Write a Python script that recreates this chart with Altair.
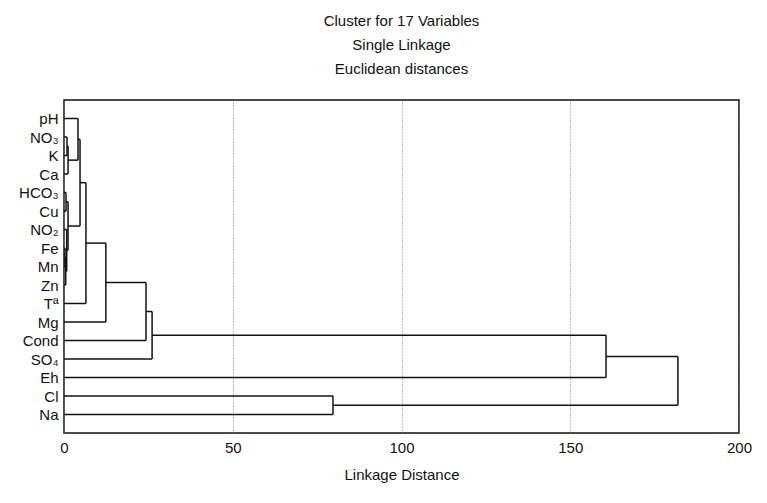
import altair as alt
import pandas as pd

# Leaves in dendrogram order (top to bottom)
leaves = ["pH", "NO₃", "K", "Ca", "HCO₃", "Cu", "NO₂", "Fe", "Mn", "Zn",
          "Tª", "Mg", "Cond", "SO₄", "Eh", "Cl", "Na"]

# Merges: children are leaf names or "m<k>" (earlier merge), with linkage distance
merge_left = ["NO₃", "m0", "pH", "HCO₃", "Fe", "m4", "NO₂", "m3", "m2", "m8",
              "m9", "m10", "m11", "m12", "Cl", "m13"]
merge_right = ["K", "Ca", "m1", "Cu", "Mn", "Zn", "m5", "m6", "m7", "Tª",
               "Mg", "Cond", "SO₄", "Eh", "Na", "m14"]
merge_height = [0.9, 1.2, 4.15, 0.6, 0.3, 0.5, 0.8, 1.2, 4.75, 6.5,
                12.4, 24.3, 26.1, 160.6, 79.7, 181.9]

x_ticks = [0, 50, 100, 150, 200]

# Build dendrogram segments from the merge table
pos = {name: (float(i), 0.0) for i, name in enumerate(leaves)}
segs = []
for k, (a, b, h) in enumerate(zip(merge_left, merge_right, merge_height)):
    ya, ha = pos[a]
    yb, hb = pos[b]
    segs.append({"x": ha, "x2": h, "y": ya, "y2": ya})
    segs.append({"x": hb, "x2": h, "y": yb, "y2": yb})
    segs.append({"x": h, "x2": h, "y": ya, "y2": yb})
    pos[f"m{k}"] = ((ya + yb) / 2.0, h)
df = pd.DataFrame(segs)

label_expr = "[" + ",".join(f"'{n}'" for n in leaves) + "][datum.value]"

FONT = "Liberation Sans"

chart = alt.Chart(df).mark_rule(color="#111111", strokeWidth=1.5).encode(
    x=alt.X("x:Q",
            scale=alt.Scale(domain=[0, 200], nice=False, zero=False),
            axis=alt.Axis(values=x_ticks, title="Linkage Distance", grid=True,
                          gridDash=[1, 2], gridColor="#777777", gridWidth=1,
                          ticks=False, domain=False, labelPadding=7,
                          titlePadding=12, labelFontSize=15, titleFontSize=15,
                          labelFont=FONT, titleFont=FONT, titleFontWeight="normal",
                          labelColor="#111111", titleColor="#111111",
                          labelFlush=False)),
    x2="x2:Q",
    y=alt.Y("y:Q",
            scale=alt.Scale(domain=[-1, 17], reverse=True, nice=False, zero=False),
            axis=alt.Axis(values=list(range(len(leaves))), labelExpr=label_expr,
                          title=None, grid=False, ticks=False, domain=False,
                          labelPadding=6, labelFontSize=15, labelFont=FONT,
                          labelColor="#111111")),
    y2="y2:Q",
).properties(
    width=675,
    height=333,
    autosize=alt.AutoSizeParams(type="none"),
    padding={"left": 56, "top": 92, "right": 20, "bottom": 50},
    title=alt.TitleParams(
        text=["Cluster for 17 Variables", "Single Linkage", "Euclidean distances"],
        fontSize=15, font=FONT, fontWeight="normal", lineHeight=24,
        offset=23, anchor="middle", color="#111111"),
).configure_view(
    stroke="#111111", strokeWidth=1.5
)

chart.save("out.html", embed_options={"renderer": "svg", "actions": False})
